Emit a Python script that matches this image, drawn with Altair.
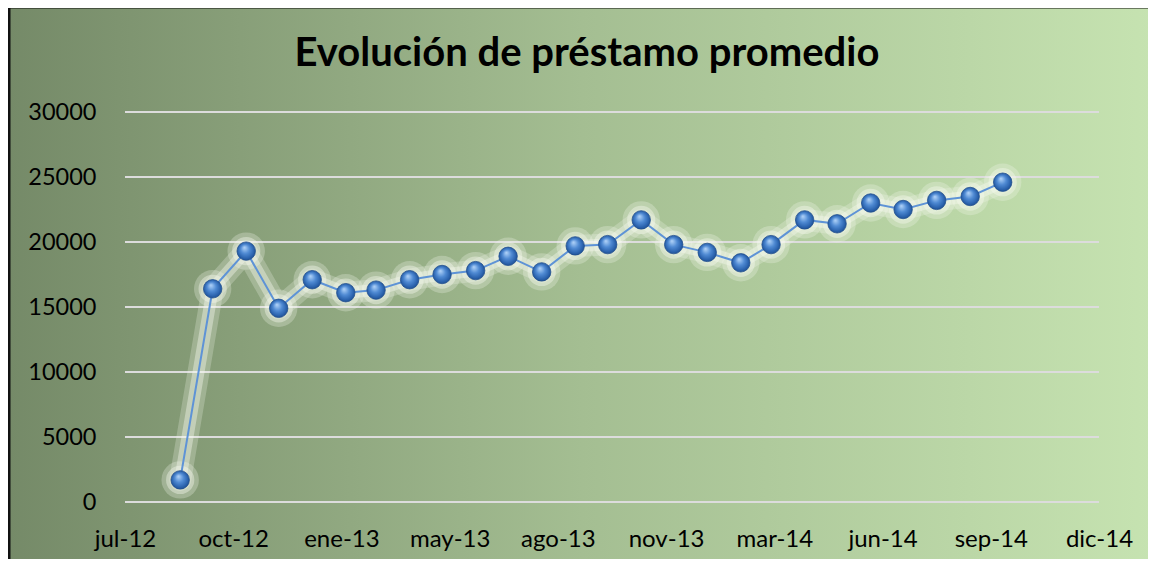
import altair as alt
import pandas as pd

# ---- data ----
fechas = [
    "2012-08-31", "2012-09-30", "2012-10-31", "2012-11-30", "2012-12-31",
    "2013-01-31", "2013-02-28", "2013-03-31", "2013-04-30", "2013-05-31",
    "2013-06-30", "2013-07-31", "2013-08-31", "2013-09-30", "2013-10-31",
    "2013-11-30", "2013-12-31", "2014-01-31", "2014-02-28", "2014-03-31",
    "2014-04-30", "2014-05-31", "2014-06-30", "2014-07-31", "2014-08-31",
    "2014-09-30",
]
prestamo = [
    1700, 16400, 19300, 14900, 17100, 16100, 16300, 17100, 17500, 17800,
    18900, 17700, 19700, 19800, 21700, 19800, 19200, 18400, 19800, 21700,
    21400, 23000, 22500, 23200, 23500, 24600,
]
# x-axis ticks (Excel date axis, 100-day major unit)
tick_dates = [(2012, 7, 11), (2012, 10, 19), (2013, 1, 27), (2013, 5, 7),
              (2013, 8, 15), (2013, 11, 23), (2014, 3, 3), (2014, 6, 11),
              (2014, 9, 19), (2014, 12, 28)]
tick_labels = ["jul-12", "oct-12", "ene-13", "may-13", "ago-13",
               "nov-13", "mar-14", "jun-14", "sep-14", "dic-14"]
y_ticks = [0, 5000, 10000, 15000, 20000, 25000, 30000]
titulo = "Evolución de préstamo promedio"

df = pd.DataFrame({"fecha": fechas, "prestamo": prestamo})
grid_df = pd.DataFrame({"prestamo": y_ticks})
one_df = pd.DataFrame({"k": [0]})

W, H = 974, 390
PAD = {"left": 117, "top": 104, "right": 49, "bottom": 57}

FONT = "Lato"

dt = [alt.DateTime(year=y, month=m, date=d, utc=True) for (y, m, d) in tick_dates]
label_map = "{" + ",".join(
    f"'{y}-{m}-{d}':'{lab}'" for (y, m, d), lab in zip(tick_dates, tick_labels)
) + "}"

x_axis = alt.Axis(
    values=dt,
    labelExpr=f"{label_map}[utcyear(datum.value)+'-'+(utcmonth(datum.value)+1)+'-'+utcdate(datum.value)]",
    title=None, domain=False, ticks=False, grid=False,
    labelFlush=False, labelOverlap=False, labelPadding=25,
    labelFont=FONT, labelFontSize=24, labelColor="#000000", zindex=2,
)
x_enc = alt.X("fecha:T", scale=alt.Scale(type="utc", domain=[dt[0], dt[-1]]), axis=x_axis)

y_scale = alt.Scale(domain=[0, 30000], nice=False)
y_axis = alt.Axis(
    values=y_ticks, format="d", title=None, domain=False, ticks=False,
    grid=False, labelPadding=29, labelFont=FONT, labelFontSize=23.5,
    labelColor="#000000", zindex=2,
)
y_enc = alt.Y("prestamo:Q", scale=y_scale, axis=y_axis)

bg_grad = alt.LinearGradient(
    gradient="linear",
    stops=[alt.GradientStop(color="#758a68", offset=0),
           alt.GradientStop(color="#a4be92", offset=0.5),
           alt.GradientStop(color="#c6e3b1", offset=1)],
    x1=0, x2=1, y1=0, y2=0,
)
background = alt.Chart(one_df).mark_rect(
    fill=bg_grad, stroke="#111111", strokeWidth=3
).encode(
    x=alt.value(-PAD["left"] + 1),
    x2=alt.value(W + PAD["right"] + 6),
    y=alt.value(-PAD["top"] - 1),
    y2=alt.value(H + PAD["bottom"] + 6),
)

title_mark = alt.Chart(one_df).mark_text(
    font=FONT, fontSize=40, fontWeight="bold", color="#000000",
    align="center", baseline="alphabetic",
).encode(text=alt.value(titulo), x=alt.value(462), y=alt.value(-46))

grid = alt.Chart(grid_df).mark_rule(color="#dcdcdc", strokeWidth=2).encode(y=y_enc)

glow1 = alt.Chart(df).mark_line(
    color="#f5f9ec", strokeWidth=22, opacity=0.25, strokeCap="round", strokeJoin="round"
).encode(x=x_enc, y=y_enc)
glow2 = alt.Chart(df).mark_line(
    color="#f7faef", strokeWidth=12, opacity=0.4, strokeCap="round", strokeJoin="round"
).encode(x=x_enc, y=y_enc)
glowp1 = alt.Chart(df).mark_circle(color="#f5f9ec", size=1400, opacity=0.28).encode(x=x_enc, y=y_enc)
glowp2 = alt.Chart(df).mark_circle(color="#f7faef", size=800, opacity=0.4).encode(x=x_enc, y=y_enc)

line = alt.Chart(df).mark_line(color="#5e93d6", strokeWidth=2).encode(x=x_enc, y=y_enc)

sphere = alt.RadialGradient(
    gradient="radial",
    stops=[alt.GradientStop(color="#b5d6fa", offset=0),
           alt.GradientStop(color="#4f8ad3", offset=0.45),
           alt.GradientStop(color="#2a62ad", offset=0.8),
           alt.GradientStop(color="#1c4a86", offset=1)],
    x1=0.4, y1=0.3, r1=0, x2=0.5, y2=0.5, r2=0.55,
)
points = alt.Chart(df).mark_point(
    shape="circle", filled=True, fill=sphere, size=340, opacity=1,
    stroke="#23518f", strokeWidth=0.8,
).encode(x=x_enc, y=y_enc)

chart = alt.layer(
    background, title_mark, grid, glow1, glow2, glowp1, glowp2, line, points
).properties(
    width=W, height=H,
    autosize=alt.AutoSizeParams(type="none"),
    padding=PAD,
).configure_view(stroke=None).configure(background="#ffffff")

chart.save("out.html", embed_options={"renderer": "svg", "actions": False})
